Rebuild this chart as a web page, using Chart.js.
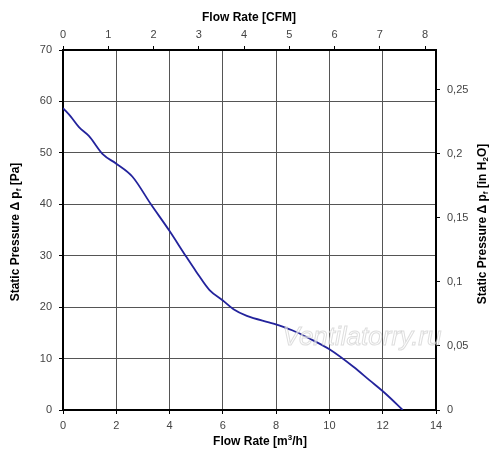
<!DOCTYPE html>
<html lang="en">
<head>
	<meta charset="UTF-8">
	<title>Fan curve</title>
	<script src="https://cdn.jsdelivr.net/npm/chart.js@4.4.0/dist/chart.umd.min.js"></script>
	<style>
		html, body { margin: 0; padding: 0; background: #fff; }
	</style>
</head>
<body>
	<canvas id="fanChart" width="500" height="461"></canvas>

	<script>
	// curve: flow in m3/h, static pressure in Pa
	const flowRate = [0, 0.3, 0.6, 0.97, 1.5, 2.0, 2.6, 3.3, 4.0, 4.6, 5.0, 5.5, 6.0, 6.4, 6.9, 7.9, 8.6, 9.25, 10.0, 10.9, 11.5, 12.1, 12.75]
	const pressure = [58.7, 57.0, 55.0, 53.3, 49.7, 47.9, 45.4, 40.0, 34.8, 30.0, 26.9, 23.3, 21.3, 19.6, 18.3, 16.8, 15.5, 13.9, 11.8, 8.4, 5.8, 3.2, 0]

	// tick labels of the secondary axes
	const cfmTicks = [0, 1, 2, 3, 4, 5, 6, 7, 8]
	const inH2OTicks = [0, 0.05, 0.1, 0.15, 0.2, 0.25]

	const M3H_PER_CFM = 1.699
	const PA_PER_INH2O = 249.09
	const flowMax = 14
	const pressMax = 70

	const font = "'Liberation Sans', Arial, sans-serif"
	const tickFont = { family: font, size: 11 }
	const tickColor = '#444'

	function fixedTicks(values) {
		return (scale) => { scale.ticks = values.map(v => ({ value: v })) }
	}

	// axis titles drawn by hand so subscripts and rotation match
	const titles = {
		id: 'titles',
		afterDraw(chart) {
			const c = chart.ctx
			c.save()
			c.fillStyle = '#000'
			c.textBaseline = 'middle'
			c.textAlign = 'center'
			c.font = 'bold 12px ' + font
			c.fillText('Flow Rate [CFM]', 249, 18)

			drawParts(c, [['Flow Rate [m', 0, 12], ['3', -4, 8], ['/h]', 0, 12]], 260, 442)

			c.save()
			c.translate(16, 232)
			c.rotate(-Math.PI / 2)
			drawParts(c, [['Static Pressure \u0394 p', 0, 12], ['f', 3, 8], [' [Pa]', 0, 12]], 0, 0)
			c.restore()

			c.save()
			c.translate(483, 224)
			c.rotate(-Math.PI / 2)
			drawParts(c, [['Static Pressure \u0394 p', 0, 12], ['f', 3, 8], [' [in H', 0, 12], ['2', 3, 8], ['O]', 0, 12]], 0, 0)
			c.restore()

			// watermark
			c.font = 'italic 26px ' + font
			c.textAlign = 'center'
			c.lineWidth = 1
			c.strokeStyle = 'rgba(180,180,180,0.45)'
			c.fillStyle = 'rgba(255,255,255,0.6)'
			c.fillText('Ventilatorry.ru', 362, 338)
			c.strokeText('Ventilatorry.ru', 362, 338)
			c.restore()
		}
	}

	function drawParts(c, parts, cx, cy) {
		let total = 0
		parts.forEach(p => { c.font = 'bold ' + p[2] + 'px ' + font; total += c.measureText(p[0]).width })
		let x = cx - total / 2
		c.textAlign = 'left'
		parts.forEach(p => {
			c.font = 'bold ' + p[2] + 'px ' + font
			c.fillText(p[0], x, cy + p[1])
			x += c.measureText(p[0]).width
		})
		c.textAlign = 'center'
	}

	const points = flowRate.map((q, i) => ({ x: q, y: pressure[i] }))

	const ctx = document.getElementById('fanChart').getContext('2d')
	const chart = new Chart(ctx, {
		type: 'line',
		data: {
			datasets: [{
				data: points,
				borderColor: '#23239c',
				borderWidth: 1.8,
				pointRadius: 0,
				fill: false,
				cubicInterpolationMode: 'monotone',
				xAxisID: 'x',
				yAxisID: 'y'
			}]
		},
		options: {
			responsive: false,
			animation: false,
			layout: { padding: 0 },
			plugins: {
				legend: { display: false },
				tooltip: { enabled: false }
			},
			scales: {
				x: {
					type: 'linear',
					position: 'bottom',
					min: 0,
					max: flowMax,
					afterFit: s => { s.height = 51 },
					border: { color: '#000', width: 2 },
					grid: { color: '#555', lineWidth: 1, tickLength: 4, tickColor: '#000' },
					ticks: { stepSize: 2, color: tickColor, font: tickFont, padding: 5, maxRotation: 0 }
				},
				x2: {
					type: 'linear',
					position: 'top',
					min: 0,
					max: flowMax / M3H_PER_CFM,
					afterBuildTicks: fixedTicks(cfmTicks),
					afterFit: s => { s.height = 50 },
					border: { color: '#000', width: 2 },
					grid: { drawOnChartArea: false, tickLength: 4, tickColor: '#000' },
					ticks: { color: tickColor, font: tickFont, padding: 4, maxRotation: 0, autoSkip: false }
				},
				y: {
					type: 'linear',
					position: 'left',
					min: 0,
					max: pressMax,
					afterFit: s => { s.width = 63 },
					border: { color: '#000', width: 2 },
					grid: { color: '#555', lineWidth: 1, tickLength: 4, tickColor: '#000' },
					ticks: { stepSize: 10, color: tickColor, font: tickFont, padding: 7 }
				},
				y2: {
					type: 'linear',
					position: 'right',
					min: 0,
					max: pressMax / PA_PER_INH2O,
					afterBuildTicks: fixedTicks(inH2OTicks),
					afterFit: s => { s.width = 64 },
					border: { color: '#000', width: 2 },
					grid: { drawOnChartArea: false, tickLength: 4, tickColor: '#000' },
					ticks: {
						color: tickColor,
						font: tickFont,
						padding: 7,
						autoSkip: false,
						callback: v => String(Math.round(v * 100) / 100).replace('.', ',')
					}
				}
			}
		},
		plugins: [titles]
	})
	</script>
</body>
</html>
